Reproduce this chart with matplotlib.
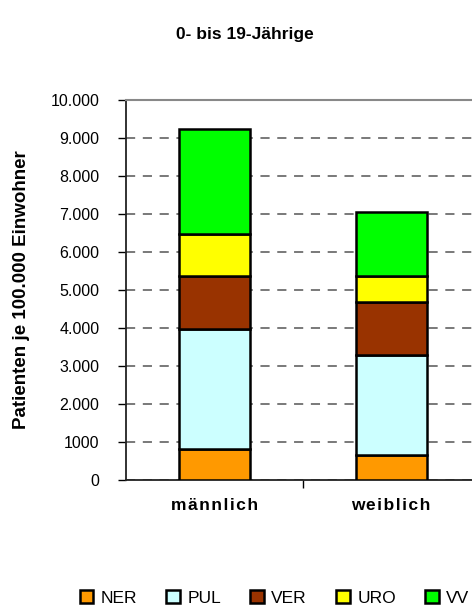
import matplotlib
matplotlib.use("Agg")
import matplotlib.pyplot as plt
import numpy as np

plt.rcParams["font.family"] = ["Liberation Sans", "DejaVu Sans"]

categories = ["männlich", "weiblich"]
series = ["NER", "PUL", "VER", "URO", "VV"]
colors = ["#FF9900", "#CCFFFF", "#993300", "#FFFF00", "#00FF00"]

# segment heights per category (patients per 100,000 inhabitants)
ner = [815, 665]
pul = [3165, 2635]
ver = [1400, 1390]
uro = [1110, 670]
vv = [2740, 1690]

yticks = [0, 1000, 2000, 3000, 4000, 5000, 6000, 7000, 8000, 9000, 10000]
ytick_labels = ["0", "1000", "2.000", "3.000", "4.000", "5.000", "6.000",
                "7.000", "8.000", "9.000", "10.000"]


def spaced(s):
    # the original labels are slightly letter-spaced
    return "\u200a".join(s)


fig = plt.figure(figsize=(4.72, 6.08), dpi=100)
ax = fig.add_axes([0.2663, 0.210, 0.75, 0.6255])

x = np.arange(len(categories))
bottom = np.zeros(len(categories))
for name, vals, col in zip(series, [ner, pul, ver, uro, vv], colors):
    ax.bar(x, vals, width=0.403, bottom=bottom, color=col, edgecolor="black",
           linewidth=1.8, label=name, zorder=3)
    bottom += np.array(vals)

ax.set_xlim(-0.5, 1.5)
ax.set_ylim(0, 10000)
ax.set_yticks(yticks)
ax.set_yticklabels(ytick_labels, fontsize=11.5)
ax.set_xticks(x)
ax.set_xticklabels([spaced(c) for c in categories], fontsize=12.5,
                   fontweight="bold")
ax.tick_params(axis="x", length=0, pad=13)
ax.set_xticks([0.5], minor=True)
ax.tick_params(axis="x", which="minor", length=6, width=1, direction="out")
ax.tick_params(axis="y", length=6, width=1, direction="out", pad=13)
ax.yaxis.grid(True, linestyle=(0, (6, 5)), color="#555555", linewidth=1.1,
              zorder=1)

ax.spines["top"].set_color("#888888")
ax.spines["top"].set_linewidth(1.5)
ax.spines["right"].set_visible(False)
ax.spines["left"].set_color("#222222")
ax.spines["left"].set_linewidth(1.3)
ax.spines["bottom"].set_color("#222222")
ax.spines["bottom"].set_linewidth(1.3)

fig.text(22 / 472, 0.523, "Patienten je 100.000 Einwohner", rotation=90,
         ha="center", va="center", fontsize=13.5, fontweight="bold")
fig.text(245 / 472, 1 - 35 / 608, "0- bis 19-Jährige", ha="center",
         va="center", fontsize=12.5, fontweight="bold")

handles, labels = ax.get_legend_handles_labels()
fig.legend(handles, labels, loc="center", bbox_to_anchor=(0.5816, 0.017),
           ncol=5, frameon=False, fontsize=12.5, handlelength=0.8,
           handleheight=0.8, handletextpad=0.4, columnspacing=1.7,
           borderpad=0, borderaxespad=0)

fig.savefig("out.png", dpi=100)
